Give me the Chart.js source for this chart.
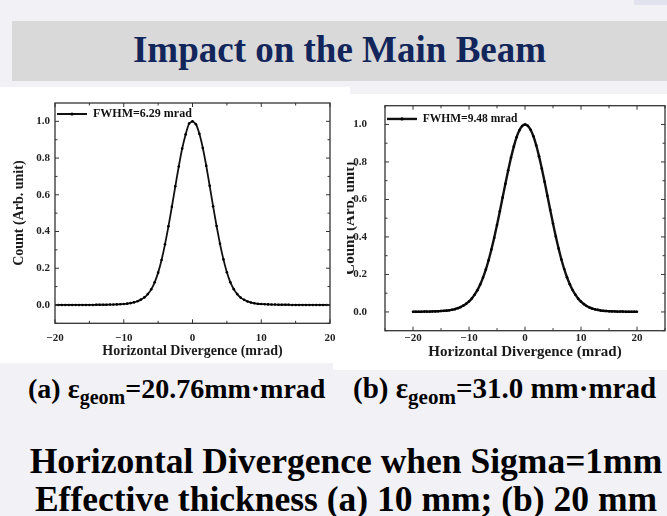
<!DOCTYPE html>
<html>
<head>
<meta charset="utf-8">
<script src="https://cdn.jsdelivr.net/npm/chart.js@4.4.1/dist/chart.umd.min.js"></script>
<style>
  html, body { margin: 0; padding: 0; }
  body { width: 667px; height: 516px; background: #f2f1f6; position: relative; overflow: hidden; font-family: 'Liberation Serif', 'Times New Roman', serif; }
  .abs { position: absolute; }
  #corner { left: 634px; top: 0; width: 33px; height: 5px; background: #e3e3f0; }
  #bar { left: 12px; top: 21px; width: 655px; height: 60px; background: #d9d9d9; }
  #title { left: 12px; width: 655px; top: 32px; line-height: 36px; text-align: center; font-weight: bold; font-size: 37px; color: #13265c; white-space: nowrap; }
  #panelA { left: 0; top: 87px; width: 350px; height: 276px; background: #fff; }
  #whiteB { left: 333px; top: 94px; width: 334px; height: 276px; background: #fff; }
  #panelB { left: 347px; top: 94px; width: 320px; height: 276px; overflow: hidden; background: #fff; }
  #innerB { left: -17px; top: 0; width: 337px; height: 276px; }
  .cap { top: 374px; line-height: 29px; font-size: 28px; font-weight: bold; color: #000; white-space: nowrap; font-family: 'Liberation Serif', serif; }
  .cap .sub { font-size: 20px; position: relative; top: 6px; }
  #capA { left: 28px; }
  #capB { left: 353px; font-size: 29px; }
  #capB .sub { font-size: 21px; }
  #bottom { left: 25px; width: 642px; top: 442px; line-height: 38px; font-size: 35.5px; font-weight: bold; text-align: center; color: #000; white-space: nowrap; font-family: 'Liberation Serif', serif; }
</style>
</head>
<body>
<div id="corner" class="abs"></div>
<div id="bar" class="abs"></div>
<div id="title" class="abs">Impact on the Main Beam</div>
<div id="whiteB" class="abs"></div>
<div id="panelA" class="abs"><canvas id="chartA" width="350" height="276"></canvas></div>
<div id="panelB" class="abs"><div id="innerB" class="abs"><canvas id="chartB" width="337" height="276"></canvas></div></div>
<div id="capA" class="abs cap">(a) ε<span class="sub">geom</span>=20.76mm·mrad</div>
<div id="capB" class="abs cap">(b) ε<span class="sub">geom</span>=31.0 mm·mrad</div>
<div id="bottom" class="abs">Horizontal Divergence when Sigma=1mm<br>Effective thickness (a) 10 mm; (b) 20 mm</div>

<script>
// ---- data ----
const divergence = [
  -20, -19.5, -19, -18.5, -18, -17.5, -17, -16.5, -16, -15.5,
  -15, -14.5, -14, -13.5, -13, -12.5, -12, -11.5, -11, -10.5,
  -10, -9.5, -9, -8.5, -8, -7.5, -7, -6.5, -6, -5.5,
  -5, -4.5, -4, -3.5, -3, -2.5, -2, -1.5, -1, -0.5,
  0,
  0.5, 1, 1.5, 2, 2.5, 3, 3.5, 4, 4.5, 5,
  5.5, 6, 6.5, 7, 7.5, 8, 8.5, 9, 9.5, 10,
  10.5, 11, 11.5, 12, 12.5, 13, 13.5, 14, 14.5, 15,
  15.5, 16, 16.5, 17, 17.5, 18, 18.5, 19, 19.5, 20
];
const countA = [
  0.000, 0.000, 0.000, 0.000, 0.000, 0.000, 0.000, 0.000, 0.000, 0.000,
  0.000, 0.000, 0.001, 0.001, 0.001, 0.001, 0.002, 0.002, 0.003, 0.004,
  0.005, 0.007, 0.010, 0.014, 0.020, 0.029, 0.041, 0.059, 0.085, 0.123,
  0.176, 0.245, 0.330, 0.428, 0.535, 0.646, 0.754, 0.852, 0.929, 0.988,
  1.000,
  0.984, 0.932, 0.855, 0.758, 0.649, 0.537, 0.430, 0.333, 0.248, 0.178,
  0.124, 0.086, 0.059, 0.040, 0.028, 0.019, 0.013, 0.009, 0.006, 0.005,
  0.004, 0.003, 0.002, 0.002, 0.001, 0.001, 0.001, 0.001, 0.000, 0.000,
  0.000, 0.000, 0.000, 0.000, 0.000, 0.000, 0.000, 0.000, 0.000, 0.000
];
const countB = [
  0.001, 0.001, 0.001, 0.001, 0.002, 0.002, 0.002, 0.003, 0.003, 0.004,
  0.005, 0.006, 0.007, 0.009, 0.012, 0.015, 0.020, 0.026, 0.034, 0.044,
  0.056, 0.072, 0.092, 0.116, 0.146, 0.183, 0.226, 0.276, 0.333, 0.396,
  0.464, 0.536, 0.610, 0.684, 0.756, 0.823, 0.882, 0.932, 0.969, 0.992,
  1.000,
  0.993, 0.972, 0.937, 0.889, 0.831, 0.765, 0.694, 0.620, 0.545, 0.472,
  0.402, 0.338, 0.280, 0.229, 0.185, 0.148, 0.117, 0.092, 0.071, 0.055,
  0.042, 0.032, 0.024, 0.018, 0.014, 0.011, 0.008, 0.006, 0.005, 0.004,
  0.003, 0.003, 0.002, 0.002, 0.002, 0.001, 0.001, 0.001, 0.001, 0.001
];
const labelA = 'FWHM=6.29 mrad';
const labelB = 'FWHM=9.48 mrad';
const xTickLabels = [-20, -10, 0, 10, 20];
const xMinorA = [-15, -5, 5, 15];
const xMinorB = [-25, -15, -5, 5, 15, 25];
const yTickLabels = [0.0, 0.2, 0.4, 0.6, 0.8, 1.0];
const yMinor = [-0.1, 0.1, 0.3, 0.5, 0.7, 0.9];
const xTitle = 'Horizontal Divergence (mrad)';
const yTitle = 'Count (Arb. unit)';

// ---- helpers ----
Chart.defaults.font.family = "'Liberation Serif', 'Times New Roman', serif";
Chart.defaults.color = '#222';

const fmtX = v => (v < 0 ? '\u2212' + Math.abs(v) : String(v));

function makeFramePlugin(xMajor, xMinor, yMajor, yMinorVals, legendLine, legendFont) {
  return {
    id: 'frame',
    afterDraw(chart) {
      const { ctx, chartArea: a, scales } = chart;
      const x = scales.x, y = scales.y;
      ctx.save();
      ctx.strokeStyle = '#333';
      ctx.lineWidth = 1;
      const seg = (x1, y1, x2, y2) => { ctx.beginPath(); ctx.moveTo(x1, y1); ctx.lineTo(x2, y2); ctx.stroke(); };
      const xt = (vals, L) => vals.forEach(v => {
        const p = x.getPixelForValue(v);
        if (p < a.left - 0.5 || p > a.right + 0.5) return;
        seg(p, a.bottom, p, a.bottom - L); seg(p, a.top, p, a.top + L);
      });
      const yt = (vals, L) => vals.forEach(v => {
        const p = y.getPixelForValue(v);
        if (p < a.top - 0.5 || p > a.bottom + 0.5) return;
        seg(a.left, p, a.left + L, p); seg(a.right, p, a.right - L, p);
      });
      xt(xMajor, 4); xt(xMinor, 2.5);
      yt(yMajor, 4); yt(yMinorVals, 2.5);
      ctx.lineWidth = 1.3;
      ctx.strokeRect(a.left, a.top, a.right - a.left, a.bottom - a.top);
      // marker dot on the legend line
      const lg = chart.legend;
      if (lg && lg.legendHitBoxes && lg.legendHitBoxes[0]) {
        const hb = lg.legendHitBoxes[0];
        ctx.fillStyle = '#000';
        ctx.beginPath();
        ctx.arc(hb.left + legendLine / 2, hb.top + legendFont / 2, 1.6, 0, Math.PI * 2);
        ctx.fill();
      }
      ctx.restore();
    }
  };
}

function makeChart(id, values, label, cfg) {
  return new Chart(document.getElementById(id), {
    type: 'line',
    data: {
      datasets: [{
        label: label,
        data: divergence.map((xv, i) => ({ x: xv, y: values[i] })),
        borderColor: '#111',
        borderWidth: cfg.lineWidth,
        pointRadius: 1.3,
        pointHoverRadius: 0,
        pointBackgroundColor: '#000',
        pointBorderWidth: 0,
        tension: 0.2,
        fill: false
      }]
    },
    options: {
      responsive: false,
      animation: false,
      events: [],
      layout: { padding: cfg.padding },
      scales: {
        x: {
          type: 'linear', min: cfg.xMin, max: cfg.xMax,
          afterBuildTicks: s => { s.ticks = xTickLabels.map(v => ({ value: v })); },
          afterFit: s => { s.height = cfg.xHeight; s.paddingLeft = 0; s.paddingRight = 0; },
          grid: { display: false, drawTicks: false },
          border: { display: false },
          ticks: { autoSkip: false, maxRotation: 0, padding: cfg.xTickPad, font: { size: cfg.tickFont, weight: 'bold' }, color: '#222', callback: v => fmtX(v) },
          title: { display: true, text: xTitle, color: '#1a1a1a', font: { size: cfg.titleFont, weight: 'bold' }, padding: { top: 0, bottom: cfg.xTitlePad } }
        },
        y: {
          type: 'linear', min: -0.1, max: 1.1,
          afterBuildTicks: s => { s.ticks = yTickLabels.map(v => ({ value: v })); },
          afterFit: s => { s.width = cfg.yWidth; s.paddingTop = 0; s.paddingBottom = 0; },
          grid: { display: false, drawTicks: false },
          border: { display: false },
          ticks: { padding: cfg.yTickPad, font: { size: cfg.tickFont, weight: 'bold' }, color: '#222', callback: v => Number(v).toFixed(1) },
          title: { display: true, text: yTitle, color: '#1a1a1a', font: { size: cfg.titleFont, weight: 'bold' }, padding: { top: cfg.yTitlePad, bottom: 0 } }
        }
      },
      plugins: {
        legend: {
          position: 'chartArea', align: 'start',
          title: { display: true, text: '', font: { size: 1 }, padding: { top: cfg.legendTop, bottom: 0 } },
          labels: {
            usePointStyle: true, pointStyle: 'line', pointStyleWidth: cfg.legendLine,
            padding: 2, color: '#111', font: { size: cfg.legendFont, weight: 'bold' },
            generateLabels: chart => Chart.defaults.plugins.legend.labels.generateLabels(chart).map(l => Object.assign(l, { lineWidth: cfg.lineWidth, strokeStyle: '#111' }))
          }
        },
        tooltip: { enabled: false }
      }
    },
    plugins: [makeFramePlugin(xTickLabels, cfg.xMinor, yTickLabels, yMinor, cfg.legendLine, cfg.legendFont)]
  });
}

makeChart('chartA', countA, labelA, {
  xMin: -20, xMax: 20, xMinor: xMinorA, lineWidth: 1.8,
  padding: { left: 0, top: 16, right: 20, bottom: 0 },
  xHeight: 39.7, yWidth: 55, xTickPad: 8.6, yTickPad: 5, xTitlePad: 3, yTitlePad: 10.8,
  tickFont: 11, titleFont: 14, legendFont: 12, legendLine: 30, legendTop: 17.8
});
makeChart('chartB', countB, labelB, {
  xMin: -25, xMax: 25, xMinor: xMinorB, lineWidth: 2.4,
  padding: { left: 0, top: 11.7, right: 2, bottom: 0 },
  xHeight: 39.3, yWidth: 55, xTickPad: 1.2, yTickPad: 18, xTitlePad: 9, yTitlePad: 11,
  tickFont: 11, titleFont: 15, legendFont: 11.5, legendLine: 30, legendTop: 16
});
</script>
</body>
</html>
